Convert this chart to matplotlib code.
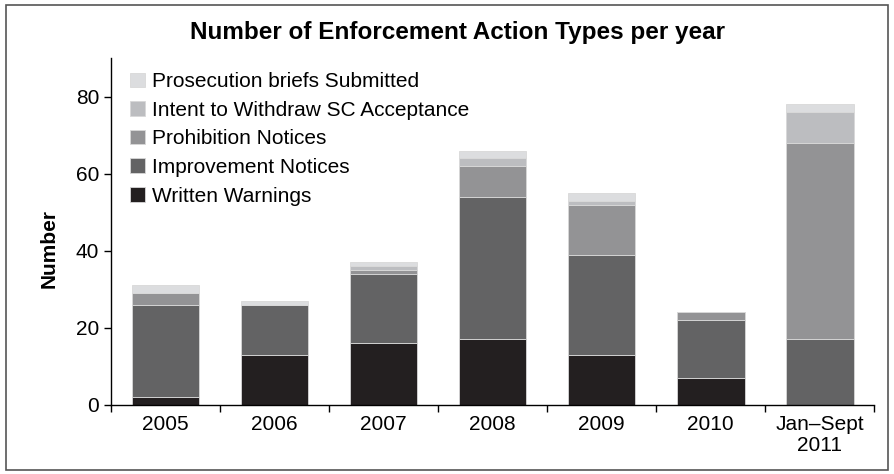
import matplotlib.pyplot as plt
import numpy as np
from matplotlib.patches import Rectangle

plt.rcParams['font.family'] = ['Liberation Sans', 'DejaVu Sans']

# Categories and stacked series (counts per year)
periods = ['2005', '2006', '2007', '2008', '2009', '2010', 'Jan\u2013Sept\n2011']
writtenWarnings = [2, 13, 16, 17, 13, 7, 0]
improvementNotices = [24, 13, 18, 37, 26, 15, 17]
prohibitionNotices = [3, 0, 1, 8, 13, 2, 51]
intentWithdraw = [0, 0, 1, 2, 1, 0, 8]
prosecutionBriefs = [2, 1, 1, 2, 2, 0, 2]

seriesNames = ['Written Warnings', 'Improvement Notices', 'Prohibition Notices',
               'Intent to Withdraw SC Acceptance', 'Prosecution briefs Submitted']
seriesValues = [writtenWarnings, improvementNotices, prohibitionNotices,
                intentWithdraw, prosecutionBriefs]
seriesColors = ['#231f20', '#636364', '#939395', '#bcbdc0', '#dcdddf']

fig = plt.figure(figsize=(8.94, 4.74), dpi=100)
ax = fig.add_axes([0.124, 0.1456, 0.854, 0.732])

x = np.arange(len(periods))
bottom = np.zeros(len(periods))
handles = []
for name, vals, col in zip(seriesNames, seriesValues, seriesColors):
    vals = np.array(vals, dtype=float)
    b = ax.bar(x, vals, width=0.62, bottom=bottom, color=col,
               edgecolor='#d8d8d8', linewidth=0.6, label=name)
    handles.append(b)
    bottom += vals

ax.set_xlim(-0.5, len(periods) - 0.5)
ax.set_ylim(0, 90)
ax.set_yticks([0, 20, 40, 60, 80])
ax.set_xticks(x)
ax.set_xticklabels(periods, linespacing=1.17)
ax.set_xticks(np.arange(-0.5, len(periods)), minor=True)
ax.tick_params(axis='x', which='major', length=0, labelsize=15, pad=7)
ax.tick_params(axis='x', which='minor', length=5, width=1, direction='out')
ax.tick_params(axis='y', length=5, width=1, labelsize=15, pad=3.5)

for side in ['top', 'right']:
    ax.spines[side].set_visible(False)
ax.spines['left'].set_linewidth(1)
ax.spines['bottom'].set_linewidth(1)

ax.set_ylabel('Number', fontsize=15, fontweight='bold')
ax.yaxis.set_label_coords(-0.068, 0.45)

leg = ax.legend(handles[::-1], seriesNames[::-1], loc='upper left',
                bbox_to_anchor=(0.009, 0.995), frameon=False, fontsize=15,
                handlelength=0.7, handleheight=0.7, handletextpad=0.35,
                labelspacing=0.46, borderaxespad=0.3, borderpad=0.3)

fig.text(458 / 894, 1 - 33 / 474, 'Number of Enforcement Action Types per year',
         ha='center', va='center', fontsize=17.5, fontweight='bold')

# Outer frame around the whole figure
fig.patches.append(Rectangle((0.0065, 0.009), 0.987, 0.98, transform=fig.transFigure,
                             fill=False, edgecolor='#555555', linewidth=1.2))

plt.savefig('out.png', dpi=100)
